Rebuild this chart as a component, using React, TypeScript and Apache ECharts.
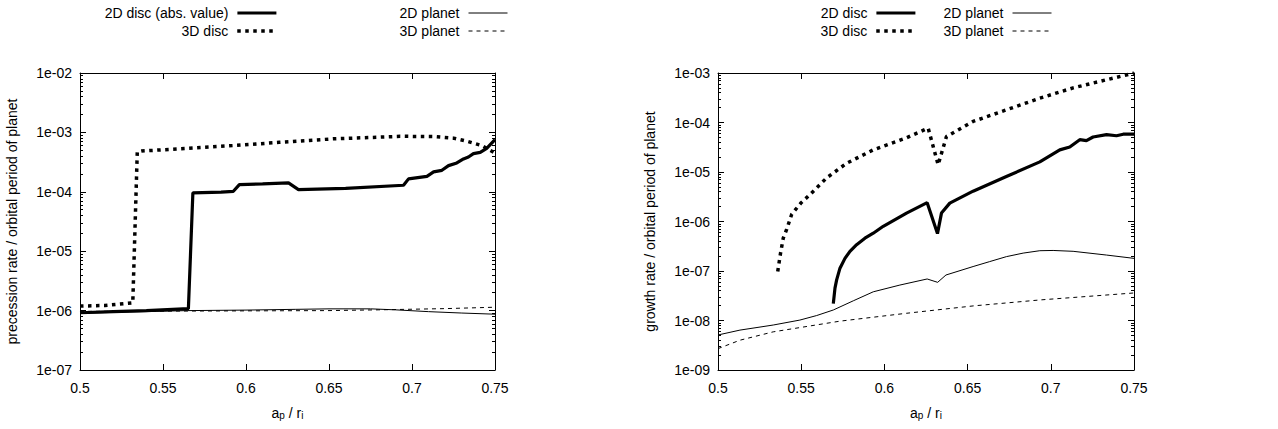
import React, { useEffect, useRef } from "react";
import * as echarts from "echarts";

// ---------- data ----------
// Left panel: precession rate
const leftDisc2dX = [0.5, 0.52, 0.54, 0.5653, 0.568, 0.585, 0.5924, 0.596, 0.61, 0.6256, 0.6316, 0.66, 0.6949, 0.6979, 0.709, 0.713, 0.718, 0.722, 0.727, 0.731, 0.734, 0.737, 0.7411, 0.745, 0.75];
const leftDisc2dY = [9.2e-7, 9.6e-7, 1.0e-6, 1.08e-6, 9.6e-5, 9.9e-5, 1.02e-4, 1.32e-4, 1.36e-4, 1.41e-4, 1.09e-4, 1.14e-4, 1.29e-4, 1.65e-4, 1.82e-4, 2.16e-4, 2.3e-4, 2.76e-4, 3.06e-4, 3.57e-4, 3.86e-4, 4.4e-4, 4.6e-4, 5.4e-4, 7.55e-4];

const leftDisc3dX = [0.5, 0.515, 0.5318, 0.5345, 0.537, 0.55, 0.57, 0.5924, 0.62, 0.6527, 0.68, 0.6929, 0.713, 0.725, 0.733, 0.742, 0.75];
const leftDisc3dY = [1.19e-6, 1.22e-6, 1.35e-6, 4.7e-4, 4.85e-4, 5.1e-4, 5.5e-4, 6.0e-4, 6.8e-4, 7.8e-4, 8.3e-4, 8.6e-4, 8.5e-4, 8.0e-4, 7.1e-4, 6.0e-4, 4.5e-4];

const leftPlanet2dX = [0.5, 0.53, 0.565, 0.6, 0.63, 0.65, 0.675, 0.69, 0.71, 0.73, 0.75];
const leftPlanet2dY = [9.0e-7, 9.5e-7, 1.0e-6, 1.02e-6, 1.05e-6, 1.07e-6, 1.07e-6, 1.03e-6, 9.6e-7, 9.1e-7, 8.7e-7];

const leftPlanet3dX = [0.5, 0.55, 0.6, 0.65, 0.68, 0.72, 0.75];
const leftPlanet3dY = [9.7e-7, 9.8e-7, 9.9e-7, 1.0e-6, 1.03e-6, 1.08e-6, 1.14e-6];

// Right panel: growth rate
const rightDisc2dX = [0.5693, 0.5703, 0.5713, 0.5733, 0.5763, 0.5793, 0.5833, 0.5883, 0.5933, 0.5993, 0.6133, 0.6257, 0.6319, 0.6343, 0.6393, 0.6533, 0.6733, 0.6934, 0.7054, 0.7114, 0.7174, 0.7214, 0.7254, 0.7335, 0.7395, 0.7435, 0.75];
const rightDisc2dY = [2.2e-8, 4.5e-8, 6.6e-8, 1.14e-7, 1.8e-7, 2.5e-7, 3.4e-7, 4.6e-7, 5.8e-7, 8.0e-7, 1.48e-6, 2.4e-6, 5.7e-7, 1.48e-6, 2.35e-6, 4.1e-6, 8.1e-6, 1.6e-5, 2.8e-5, 3.2e-5, 4.5e-5, 4.3e-5, 5.1e-5, 5.7e-5, 5.4e-5, 5.8e-5, 5.8e-5];

const rightDisc3dX = [0.5359, 0.5375, 0.5392, 0.5413, 0.5443, 0.55, 0.5553, 0.5653, 0.5773, 0.5933, 0.6133, 0.6263, 0.6323, 0.6373, 0.6533, 0.6733, 0.6934, 0.7134, 0.7335, 0.75];
const rightDisc3dY = [9.8e-8, 2.2e-7, 4.6e-7, 7.0e-7, 1.4e-6, 2.4e-6, 3.5e-6, 7.6e-6, 1.5e-5, 2.8e-5, 4.9e-5, 7.7e-5, 1.4e-5, 5.2e-5, 1.05e-4, 1.8e-4, 3.1e-4, 5.0e-4, 7.3e-4, 1.0e-3];

const rightPlanet2dX = [0.5, 0.5132, 0.5332, 0.5492, 0.5593, 0.5693, 0.5813, 0.5933, 0.6093, 0.6257, 0.632, 0.637, 0.6533, 0.6633, 0.6733, 0.6834, 0.6934, 0.7014, 0.7134, 0.7335, 0.75];
const rightPlanet2dY = [5.1e-9, 6.4e-9, 8.1e-9, 1.02e-8, 1.26e-8, 1.63e-8, 2.5e-8, 3.8e-8, 5.2e-8, 6.9e-8, 5.9e-8, 8.3e-8, 1.23e-7, 1.55e-7, 1.95e-7, 2.3e-7, 2.57e-7, 2.6e-7, 2.5e-7, 2.1e-7, 1.8e-7];

const rightPlanet3dX = [0.5, 0.5132, 0.5332, 0.5733, 0.6133, 0.6533, 0.6934, 0.75];
const rightPlanet3dY = [2.7e-9, 4.0e-9, 5.9e-9, 9.7e-9, 1.4e-8, 1.97e-8, 2.6e-8, 3.6e-8];

// Tick labels
const leftYTickLabels = ["1e-07", "1e-06", "1e-05", "1e-04", "1e-03", "1e-02"];
const rightYTickLabels = ["1e-09", "1e-08", "1e-07", "1e-06", "1e-05", "1e-04", "1e-03"];

const leftNames = ["2D disc (abs. value)", "3D disc", "2D planet", "3D planet"];
const rightNames = ["2D disc", "3D disc", "2D planet", "3D planet"];

const leftYName = "precession rate / orbital period of planet";
const rightYName = "growth rate / orbital period of planet";

// ---------- helpers ----------
const FONT = "'Liberation Sans', Arial, Helvetica, sans-serif";
const zip = (xs: number[], ys: number[]) => xs.map((x, i) => [x, ys[i]]);

const styles: Record<string, any> = {
  disc2d: { color: "#000", width: 3.2, type: "solid" },
  disc3d: { color: "#000", width: 3.5, type: [3.5, 4.5] },
  planet2d: { color: "#000", width: 1, type: "solid" },
  planet3d: { color: "#000", width: 1, type: [4, 4] },
};

function lineSeries(name: string, data: number[][], style: any, axisIdx: number, z: number) {
  return {
    type: "line",
    name,
    data,
    xAxisIndex: axisIdx,
    yAxisIndex: axisIdx,
    showSymbol: false,
    symbol: "none",
    lineStyle: { ...style },
    itemStyle: { color: "#000" },
    z,
    silent: true,
  };
}

function legendItem(name: string, style: any, right: number, top: number) {
  return {
    data: [name],
    right,
    top,
    orient: "horizontal",
    align: "right",
    padding: 0,
    itemWidth: 39,
    itemHeight: 12,
    selectedMode: false,
    itemStyle: { opacity: 0, color: "rgba(0,0,0,0)", borderWidth: 0 },
    lineStyle: { color: "#000", width: style.width, type: style.type, cap: "butt" },
    formatter: "{t|{name}}",
    textStyle: {
      color: "#000",
      fontSize: 14,
      fontFamily: FONT,
      rich: { t: { fontSize: 14, fontFamily: FONT, color: "#000", padding: [0, 4, 0, 0] } },
    },
  };
}

const xName = "{n|a}{s|p}{n| / r}{s|i}";
const xNameRich = {
  n: { fontSize: 14, fontFamily: FONT, color: "#000", verticalAlign: "top", lineHeight: 14 },
  s: { fontSize: 10, fontFamily: FONT, color: "#000", verticalAlign: "bottom", lineHeight: 10, padding: [7, 0, 0, 0] },
};

function xAxes(gridIndex: number) {
  const base = {
    gridIndex,
    type: "value",
    min: 0.5,
    max: 0.75,
    interval: 0.05,
    splitLine: { show: false },
    axisLine: { show: true, lineStyle: { color: "#000", width: 1 } },
    axisTick: { show: true, inside: true, length: 6, lineStyle: { color: "#000" } },
  };
  return [
    {
      ...base,
      position: "bottom",
      axisLabel: { show: true, color: "#000", fontSize: 14, fontFamily: FONT, margin: 11 },
      name: xName,
      nameLocation: "middle",
      nameGap: 36,
      nameTextStyle: { rich: xNameRich },
    },
    { ...base, position: "top", axisLabel: { show: false } },
  ];
}

function yAxes(gridIndex: number, min: number, max: number, labels: string[], name: string, splitNumber: number) {
  const base = {
    gridIndex,
    type: "log",
    logBase: 10,
    min,
    max,
    splitNumber,
    splitLine: { show: false },
    axisLine: { show: true, lineStyle: { color: "#000", width: 1 } },
    axisTick: { show: true, inside: true, length: 6, lineStyle: { color: "#000" } },
    minorTick: { show: true, splitNumber: 9, length: 3, lineStyle: { color: "#000" } },
  };
  const lo = Math.round(Math.log10(min));
  return [
    {
      ...base,
      position: "left",
      axisLabel: {
        show: true,
        color: "#000",
        fontSize: 14,
        fontFamily: FONT,
        margin: 8,
        formatter: (v: number) => labels[Math.round(Math.log10(v)) - lo] ?? "",
      },
      name,
      nameLocation: "middle",
      nameGap: 61,
      nameTextStyle: { color: "#000", fontSize: 14, fontFamily: FONT },
    },
    { ...base, position: "right", axisLabel: { show: false } },
  ];
}

export default function App() {
  const ref = useRef<HTMLDivElement>(null);
  useEffect(() => {
    if (!ref.current) return;
    const chart = echarts.init(ref.current, null, { renderer: "svg" });
    const option: any = {
      animation: false,
      backgroundColor: "#fff",
      textStyle: { fontFamily: FONT },
      grid: [
        { left: 80, top: 73, width: 415, height: 297, show: false, containLabel: false },
        { left: 718, top: 73, width: 416, height: 297, show: false, containLabel: false },
      ],
      xAxis: [...xAxes(0), ...xAxes(1)],
      yAxis: [
        ...yAxes(0, 1e-7, 1e-2, leftYTickLabels, leftYName, 5),
        ...yAxes(1, 1e-9, 1e-3, rightYTickLabels, rightYName, 6),
      ],
      legend: [
        legendItem(leftNames[0], styles.disc2d, 1000, 6),
        legendItem(leftNames[1], styles.disc3d, 1000, 24),
        legendItem(leftNames[2], styles.planet2d, 770, 6),
        legendItem(leftNames[3], styles.planet3d, 770, 24),
        legendItem(rightNames[0], styles.disc2d, 361, 6),
        legendItem(rightNames[1], styles.disc3d, 361, 24),
        legendItem(rightNames[2], styles.planet2d, 226, 6),
        legendItem(rightNames[3], styles.planet3d, 226, 24),
      ],
      series: [
        lineSeries(leftNames[2], zip(leftPlanet2dX, leftPlanet2dY), styles.planet2d, 0, 2),
        lineSeries(leftNames[3], zip(leftPlanet3dX, leftPlanet3dY), styles.planet3d, 0, 2),
        lineSeries(leftNames[1], zip(leftDisc3dX, leftDisc3dY), styles.disc3d, 0, 3),
        lineSeries(leftNames[0], zip(leftDisc2dX, leftDisc2dY), styles.disc2d, 0, 4),
        lineSeries(rightNames[2], zip(rightPlanet2dX, rightPlanet2dY), styles.planet2d, 2, 2),
        lineSeries(rightNames[3], zip(rightPlanet3dX, rightPlanet3dY), styles.planet3d, 2, 2),
        lineSeries(rightNames[1], zip(rightDisc3dX, rightDisc3dY), styles.disc3d, 2, 3),
        lineSeries(rightNames[0], zip(rightDisc2dX, rightDisc2dY), styles.disc2d, 2, 4),
      ],
    };
    chart.setOption(option);
    return () => chart.dispose();
  }, []);
  return (
    <div
      ref={ref}
      style={{ position: "absolute", left: 0, top: 0, width: 1278, height: 429, background: "#fff" }}
    />
  );
}
